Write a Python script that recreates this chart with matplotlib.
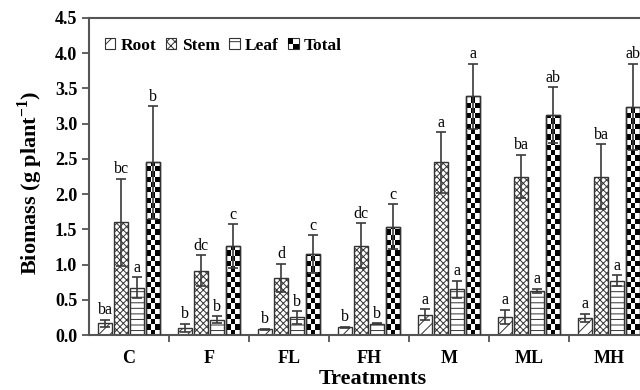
import numpy as np
import matplotlib
matplotlib.use('Agg')
import matplotlib.pyplot as plt
from matplotlib.patches import Rectangle, Patch
from matplotlib.legend_handler import HandlerBase

plt.rcParams['font.family'] = ['Liberation Serif', 'DejaVu Serif']
plt.rcParams['hatch.linewidth'] = 0.7
plt.rcParams['mathtext.fontset'] = 'custom'
plt.rcParams['mathtext.bf'] = 'Liberation Serif:bold'
plt.rcParams['mathtext.rm'] = 'Liberation Serif:bold'

treatments = ['C', 'F', 'FL', 'FH', 'M', 'ML', 'MH']
parts = ['Root', 'Stem', 'Leaf', 'Total']

root = [0.17, 0.10, 0.08, 0.11, 0.29, 0.26, 0.24]
root_err = [0.05, 0.06, 0.01, 0.01, 0.08, 0.10, 0.06]
stem = [1.60, 0.91, 0.81, 1.27, 2.45, 2.25, 2.25]
stem_err = [0.62, 0.22, 0.20, 0.32, 0.43, 0.31, 0.46]
leaf = [0.67, 0.22, 0.25, 0.16, 0.65, 0.63, 0.77]
leaf_err = [0.15, 0.05, 0.09, 0.01, 0.12, 0.03, 0.08]
total = [2.45, 1.26, 1.15, 1.54, 3.39, 3.12, 3.24]
total_err = [0.80, 0.31, 0.27, 0.32, 0.46, 0.40, 0.61]

root_sig = ['ba', 'b', 'b', 'b', 'a', 'a', 'a']
stem_sig = ['bc', 'dc', 'd', 'dc', 'a', 'ba', 'ba']
leaf_sig = ['a', 'b', 'b', 'b', 'a', 'a', 'a']
total_sig = ['b', 'c', 'c', 'c', 'a', 'ab', 'ab']

values = [root, stem, leaf, total]
errors = [root_err, stem_err, leaf_err, total_err]
sigs = [root_sig, stem_sig, leaf_sig, total_sig]
hatches = ['///', 'xxxxx', '---', None]
legend_hatches = ['//', 'xxxx', '-', None]

fig = plt.figure(figsize=(6.4, 3.9), dpi=100)
ax = fig.add_axes([89 / 640, 55 / 390, 560 / 640, 317 / 390])

x = np.arange(len(treatments))
width = 0.175
step = 0.2
offsets = [-1.5 * step, -0.5 * step, 0.5 * step, 1.5 * step]
edge = '#333333'

for k in range(4):
    bars = ax.bar(x + offsets[k], values[k], width, color='white',
                  edgecolor=edge, linewidth=1.0, hatch=hatches[k], zorder=2)
    ax.errorbar(x + offsets[k], values[k], yerr=errors[k], fmt='none',
                ecolor='#3a3a3a', elinewidth=1.2, capsize=3.5, capthick=1.2,
                zorder=4)
    for i, b in enumerate(bars):
        top = values[k][i] + errors[k][i]
        ax.annotate(sigs[k][i], (b.get_x() + b.get_width() / 2, top),
                    xytext=(0, 1), textcoords='offset points',
                    ha='center', va='bottom', fontsize=11.5)
    if k == 3:
        # checkerboard fill for the total bars
        cell_h = 0.075
        for b in bars:
            x0 = b.get_x()
            cw = b.get_width() / 3
            h = b.get_height()
            nrows = int(np.ceil(h / cell_h))
            for r in range(nrows):
                y0 = r * cell_h
                ch = min(cell_h, h - y0)
                for c in range(3):
                    if (r + c) % 2 == 1:
                        ax.add_patch(Rectangle((x0 + c * cw, y0), cw, ch,
                                               facecolor='black', lw=0,
                                               zorder=2.5))
            ax.add_patch(Rectangle((x0, 0), b.get_width(), h, fill=False,
                                   edgecolor=edge, linewidth=1.0, zorder=3))

ax.set_xlim(-0.5, 6.5)
ax.set_ylim(0, 4.5)

ax.set_yticks(np.arange(0, 4.51, 0.5))
ax.set_yticklabels(['%.1f' % v for v in np.arange(0, 4.51, 0.5)],
                   fontsize=13, fontweight='bold')
ax.set_xticks(np.arange(0.5, 6.0, 1.0))
ax.set_xticklabels([])
ax.set_xticks(x, minor=True)
ax.set_xticklabels(treatments, minor=True, fontsize=13, fontweight='bold')
ax.tick_params(axis='x', which='minor', length=0, pad=11)
ax.tick_params(axis='both', which='major', length=5, width=1.3,
               color='#555555', direction='out')

for s in ['left', 'bottom', 'top']:
    ax.spines[s].set_color('#555555')
    ax.spines[s].set_linewidth(1.5)
ax.spines['right'].set_visible(False)

ax.set_xlabel('Treatments', fontsize=16, fontweight='bold')
ax.xaxis.set_label_coords(0.507, -0.108)
ax.set_ylabel(r'Biomass (g plant$^{\mathbf{-1}}$)', fontsize=16,
              fontweight='bold')
ax.yaxis.set_label_coords(-0.078, 0.48)


class CheckerHandler(HandlerBase):
    def create_artists(self, legend, orig_handle, xdescent, ydescent,
                       width, height, fontsize, trans):
        w2, h2 = width / 2, height / 2
        arts = [Rectangle((-xdescent, -ydescent), width, height,
                          facecolor='white', edgecolor=edge, lw=0.8,
                          transform=trans)]
        arts.append(Rectangle((-xdescent, -ydescent + h2), w2, h2,
                              facecolor='black', lw=0, transform=trans))
        arts.append(Rectangle((-xdescent + w2, -ydescent), w2, h2,
                              facecolor='black', lw=0, transform=trans))
        return arts


handles = []
for k in range(4):
    handles.append(Patch(facecolor='white', edgecolor=edge, linewidth=0.8,
                         hatch=legend_hatches[k]))
leg = ax.legend(handles, parts, loc='upper left', ncol=4, frameon=False,
                bbox_to_anchor=(0.01, 0.97), handlelength=0.6,
                handleheight=0.6, handletextpad=0.3, columnspacing=0.55,
                borderaxespad=0.2, prop={'weight': 'bold', 'size': 12.5},
                handler_map={handles[3]: CheckerHandler()})

fig.savefig('out.png', dpi=100)
